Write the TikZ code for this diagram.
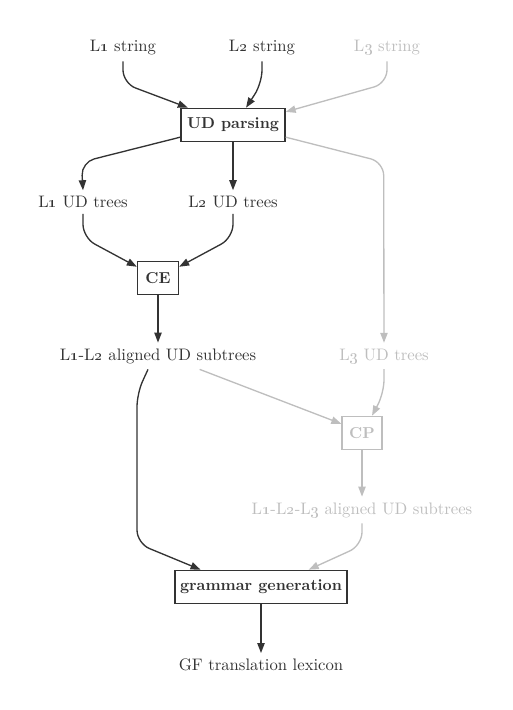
\documentclass[tikz,border=0pt]{standalone}
\usepackage{tikz}
\usetikzlibrary{arrows.meta}
\definecolor{ink}{HTML}{333333}
\definecolor{faded}{HTML}{BEBEBE}
\newcommand{\lang}[1]{L\oldstylenums{#1}}

\begin{document}
\begin{tikzpicture}[x=0.6pt, y=-0.6pt,
    lbl/.style={text=ink},
    box/.style={draw=ink, line width=0.8pt, text=ink, font=\fontsize{9.5}{11}\selectfont\bfseries, minimum height=20pt, inner xsep=3pt},
    arr/.style={draw=ink, line width=0.8pt, rounded corners=8pt, -{Triangle[length=6pt,width=4.4pt]}},
    dim/.style={draw=faded, text=faded, -{Triangle[length=6pt,width=4.4pt]}, rounded corners=8pt}]
    \useasboundingbox (0,0) rectangle (512,710);

    % input strings
    \node[lbl] (l1s) at (123,48) {\lang1 string};
    \node[lbl] (l2s) at (262,48) {\lang2 string};
    \node[text=faded] (l3s) at (387,48) {\lang3 string};

    % parsing
    \node[box, minimum width=62.4pt] (udp) at (233,125) {UD parsing};

    % trees
    \node[lbl] (l1t) at (83,202) {\lang1 UD trees};
    \node[lbl] (l2t) at (233,202) {\lang2 UD trees};
    \node[text=faded] (l3t) at (384,356) {\lang3 UD trees};

    % extraction and propagation
    \node[box, minimum width=24.6pt] (ce) at (158,278) {CE};
    \node[lbl] (l12) at (158,356) {\lang1-\lang2 aligned UD subtrees};
    \node[box, draw=faded, text=faded, minimum width=24pt] (cp) at (362,433) {CP};
    \node[text=faded] (l123) at (362,510) {\lang1-\lang2-\lang3 aligned UD subtrees};

    % generation
    \node[box, minimum width=102pt] (gg) at (261,587) {grammar generation};
    \node[lbl] (gf) at (261,665) {GF translation lexicon};

    % arrows into parsing
    \draw[arr] (l1s.south) -- ++(0,22) -- (udp.159);
    \draw[arr] (l2s.south) -- ++(0,22) -- (udp.53);
    \draw[dim, line width=0.8pt] (l3s.south) -- ++(0,22) -- (udp.14);

    % arrows out of parsing
    \draw[arr] (udp.-167) -- ++(-99,25) -- (l1t.north);
    \draw[arr] (udp.south) -- (l2t.north);
    \draw[dim, line width=0.8pt] (udp.-13) -- ++(98,25) -- (l3t.north);

    % alignment
    \draw[arr] (l1t.south) -- ++(0,24) -- (ce.152);
    \draw[arr] (l2t.south) -- ++(0,24) -- (ce.28);
    \draw[arr] (ce.south) -- (l12.north);

    % propagation
    \draw[dim, line width=0.8pt] ([xshift=25pt]l12.south) -- (cp.156);
    \draw[dim, line width=0.8pt] (l3t.south) -- ++(0,24) -- (cp.60);
    \draw[dim, line width=0.8pt] (cp.south) -- (l123.north);

    % into generation
    \draw[arr] ([xshift=-6pt]l12.south) -- ++(-11,24) -- ++(0,150) -- (gg.164);
    \draw[dim, line width=0.8pt] (l123.south) -- ++(0,22) -- (gg.20);
    \draw[arr] (gg.south) -- (gf.north);

\end{tikzpicture}
\end{document}
